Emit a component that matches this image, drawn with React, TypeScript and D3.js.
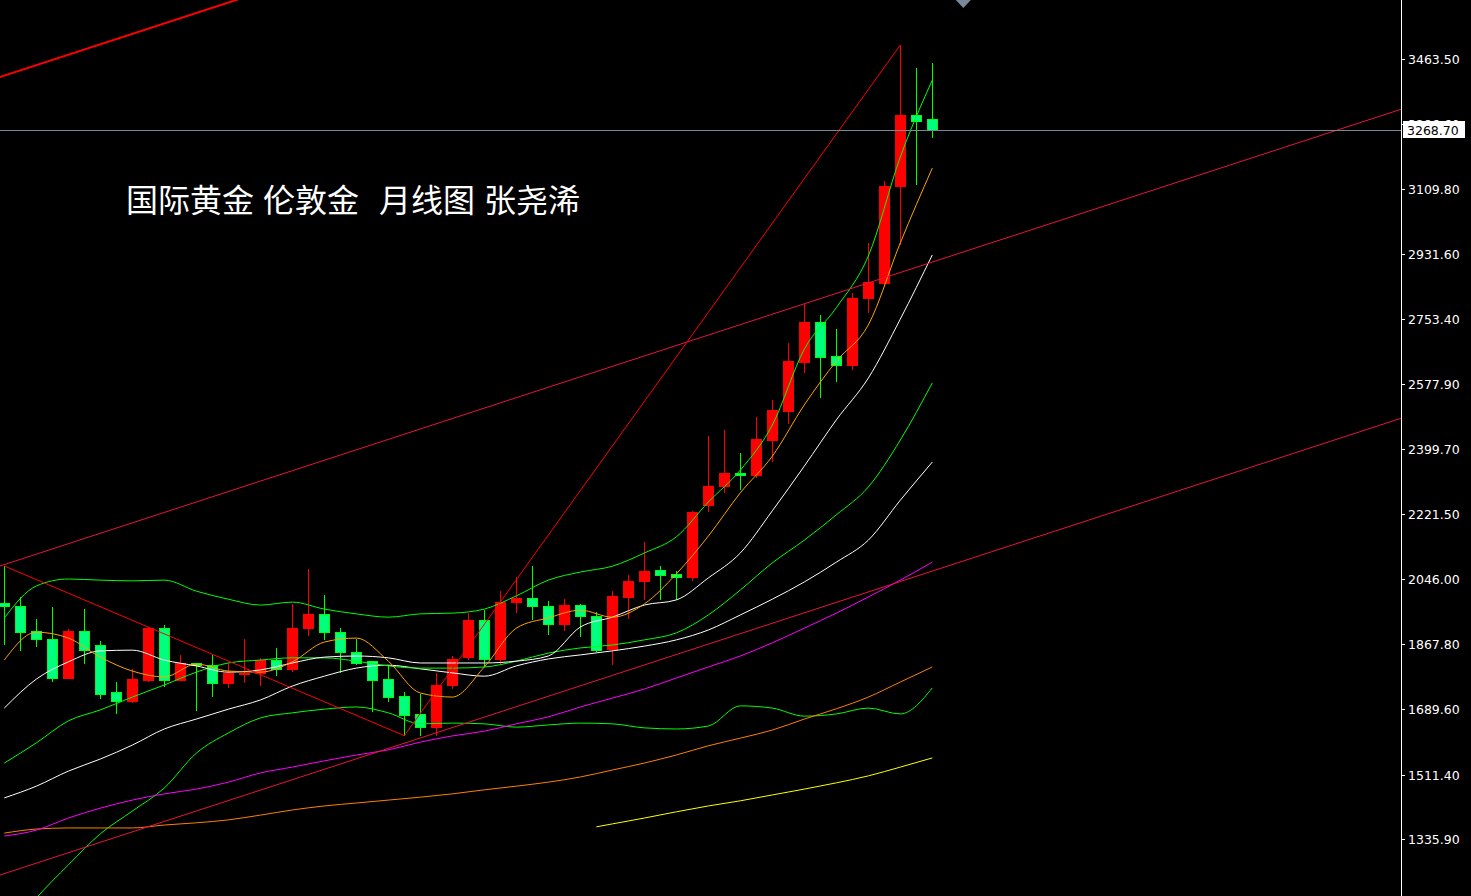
import React, { useEffect, useRef } from 'react';
import * as d3 from 'd3';

const W = 1471;
const H = 896;
const PLOT_RIGHT = 1401;

// monthly candles, oldest first (red = up, green = down)
const opens = [
  1977.7, 1971.4, 1901.3, 1881.4, 1773.1, 1901.3, 1865.0, 1736.8, 1710.3, 1767.7,
  1908.7, 1767.7, 1815.1, 1809.6, 1760.6, 1785.0, 1786.8, 1824.1, 1796.9, 1908.7,
  1946.9, 1900.5, 1845.1, 1820.5, 1769.6, 1724.0, 1674.9, 1640.5, 1754.0, 1830.4,
  1933.2, 1826.0, 1980.4, 1993.2, 1970.6, 1920.4, 1974.1, 1944.1, 1853.3, 1994.1,
  2037.7, 2066.9, 2056.0, 2048.6, 2245.0, 2296.8, 2331.5, 2326.8, 2424.2, 2503.3,
  2634.3, 2743.4, 2653.3, 2628.0, 2809.6, 2850.6, 3115.1, 3310.7, 3299.8,
];
const highs = [
  2080.5, 1996.0, 1936.0, 1968.7, 1908.7, 1963.2, 1875.9, 1764.9, 1799.6, 1914.9,
  1919.6, 1837.8, 1816.0, 1837.8, 1815.1, 1881.4, 1828.8, 1856.9, 1977.7, 2072.3,
  2001.4, 1911.4, 1881.4, 1821.4, 1810.5, 1736.0, 1731.4, 1787.8, 1835.1, 1951.5,
  1960.5, 2012.3, 2050.5, 2080.5, 1985.0, 1989.7, 1976.0, 1955.8, 2012.3, 2056.0,
  2146.0, 2080.5, 2066.9, 2230.5, 2435.1, 2451.5, 2388.8, 2487.0, 2533.3, 2688.8,
  2794.4, 2765.2, 2727.0, 2824.4, 2960.7, 3130.7, 3501.7, 3438.9, 3452.6,
];
const lows = [
  1865.0, 1848.7, 1859.6, 1764.9, 1771.0, 1813.2, 1718.6, 1677.6, 1707.6, 1765.0,
  1751.3, 1766.8, 1685.8, 1724.0, 1748.5, 1760.6, 1754.0, 1781.3, 1790.6, 1890.4,
  1878.7, 1789.5, 1810.5, 1683.1, 1710.3, 1617.6, 1617.6, 1617.6, 1745.8, 1824.1,
  1805.9, 1810.5, 1951.5, 1933.2, 1893.1, 1904.1, 1886.0, 1846.8, 1810.5, 1935.1,
  1987.8, 1987.8, 1987.8, 2039.6, 2228.6, 2278.8, 2288.6, 2320.6, 2365.0, 2467.9,
  2606.1, 2538.0, 2583.2, 2615.2, 2771.4, 2840.7, 2956.1, 3119.8, 3248.8,
];
const closes = [
  1970.6, 1898.6, 1881.4, 1773.1, 1901.3, 1851.4, 1729.5, 1710.3, 1769.6, 1908.7,
  1767.7, 1815.1, 1807.8, 1760.6, 1786.8, 1788.0, 1824.1, 1796.9, 1911.4, 1946.9,
  1898.6, 1844.0, 1815.1, 1767.7, 1722.4, 1672.2, 1640.5, 1755.9, 1826.8, 1933.2,
  1826.0, 1982.3, 1993.2, 1970.6, 1920.4, 1974.1, 1942.2, 1849.5, 1996.0, 2039.6,
  2064.2, 2054.1, 2048.6, 2225.9, 2298.7, 2331.5, 2326.8, 2426.9, 2506.0, 2637.0,
  2743.4, 2648.7, 2628.0, 2811.5, 2852.5, 3117.0, 3310.7, 3292.4, 3268.7,
];

const sampleIdx = [
  0, 2, 4, 6, 8, 10, 12, 14, 16, 18, 20, 22, 24, 26, 28,
  30, 32, 34, 36, 38, 40, 42, 44, 46, 48, 50, 52, 54, 56, 58,
];
const bandUpper = [
  1939, 2026, 2045, 2042, 2040, 2042, 2012, 1990, 1974, 1982, 1963, 1950, 1941, 1950, 1952,
  1963, 1999, 2042, 2064, 2080, 2116, 2160, 2255, 2342, 2465, 2672, 2785, 2926, 3196, 3406,
];
const maOrange = [
  1824, 1900, 1884, 1832, 1794, 1778, 1813, 1794, 1791, 1819, 1873, 1884, 1821, 1734, 1723,
  1805, 1911, 1939, 1960, 1941, 1977, 2059, 2162, 2280, 2380, 2520, 2639, 2738, 2962, 3166,
];
const maWhite = [
  1693, 1772, 1819, 1849, 1851, 1824, 1808, 1791, 1797, 1816, 1832, 1835, 1830, 1816, 1816,
  1816, 1821, 1835, 1914, 1941, 1974, 1988, 2048, 2116, 2231, 2353, 2479, 2593, 2754, 2929,
];
const maWhiteSlow = [
  1448, 1480, 1521, 1554, 1592, 1636, 1663, 1690, 1715, 1753, 1780, 1802, 1810, 1800, 1789,
  1780, 1808, 1827, 1838, 1849, 1862, 1879, 1906, 1947, 1990, 2037, 2091, 2151, 2260, 2364,
];
const maGreen = [
  1543, 1598, 1658, 1688, 1723, 1756, 1791, 1816, 1824, 1830, 1830, 1821, 1808, 1802, 1802,
  1805, 1821, 1843, 1857, 1865, 1879, 1898, 1947, 2015, 2089, 2151, 2220, 2296, 2424, 2580,
];
const bandLower = [
  1071, 1175, 1265, 1350, 1412, 1475, 1570, 1625, 1666, 1680, 1690, 1696, 1680, 1650, 1652,
  1650, 1641, 1647, 1652, 1650, 1639, 1636, 1644, 1699, 1693, 1671, 1677, 1693, 1677, 1748,
];
const maMagenta = [
  1344, 1360, 1393, 1420, 1442, 1459, 1472, 1491, 1516, 1532, 1549, 1565, 1579, 1600, 1617,
  1630, 1650, 1669, 1696, 1720, 1745, 1775, 1805, 1835, 1871, 1911, 1952, 1996, 2042, 2091,
];
const maOrangeSlow = [
  1352, 1363, 1366, 1366, 1366, 1374, 1380, 1388, 1401, 1415, 1426, 1434, 1442, 1450, 1459,
  1470, 1480, 1491, 1505, 1524, 1543, 1565, 1590, 1611, 1633, 1663, 1691, 1723, 1764, 1805,
];
const yellowIdx = [37, 38, 40, 42, 44, 46, 48, 50, 52, 54, 56, 58];
const maYellow = [1369, 1377, 1393, 1410, 1426, 1440, 1456, 1472, 1489, 1508, 1532, 1557];

// channel lines: two anchors each (candle index, price)
const channelTop = [[0, 2084.4], [56, 2881.1]];
const channelBottom = [[0, 1241.5], [56, 2038.2]];
const channelFar = [[0, 3418.2], [56, 4214.9]];
// zigzag pivots (candle index)
const zigzagIdx = [0, 25, 56];

const tickValues = [3463.5, 3286.6, 3109.8, 2931.6, 2753.4, 2577.9, 2399.7, 2221.5, 2046.0, 1867.8, 1689.6, 1511.4, 1335.9];
const titleWords = ['国际黄金', '伦敦金', '月线图', '张尧浠'];
const titleX = [126, 263, 379, 484];

export default function App() {
  const svgRef = useRef<SVGSVGElement | null>(null);

  useEffect(() => {
    const svg = d3.select(svgRef.current);
    svg.selectAll('*').remove();

    const x = d3.scaleLinear().domain([0, 58]).range([4.3, 932.3]);
    const y = d3.scaleLinear().domain([1180.4, 3624.4]).range([H, 0]);

    svg.append('rect').attr('width', W).attr('height', H).attr('fill', '#000');
    svg.append('defs').append('clipPath').attr('id', 'plot')
      .append('rect').attr('width', PLOT_RIGHT).attr('height', H);
    const plot = svg.append('g').attr('clip-path', 'url(#plot)');

    // title
    plot.append('g').selectAll('text').data(titleWords).join('text')
      .attr('x', (_d, i) => titleX[i])
      .attr('y', 212)
      .attr('fill', '#fff')
      .attr('font-family', '"Noto Sans CJK SC", sans-serif')
      .attr('font-size', 32)
      .text(d => d);

    // candles
    const candles = opens.map((o, i) => ({ i, o, h: highs[i], l: lows[i], c: closes[i], up: closes[i] >= o }));
    const cg = plot.append('g').attr('shape-rendering', 'crispEdges');
    cg.selectAll('line').data(candles).join('line')
      .attr('x1', d => Math.round(x(d.i)) + 0.5)
      .attr('x2', d => Math.round(x(d.i)) + 0.5)
      .attr('y1', d => y(d.h))
      .attr('y2', d => y(d.l))
      .attr('stroke', d => d.up ? '#ff0000' : '#00ff00');
    cg.selectAll('rect').data(candles).join('rect')
      .attr('x', d => Math.round(x(d.i)) - 4.5)
      .attr('width', 10)
      .attr('y', d => y(Math.max(d.o, d.c)))
      .attr('height', d => Math.max(1, y(Math.min(d.o, d.c)) - y(Math.max(d.o, d.c))))
      .attr('fill', d => d.up ? '#ff0000' : '#00ff7f')
      .attr('stroke', d => d.up ? '#ff0000' : '#00ff00');

    // moving averages / bands
    const line = d3.line<number[]>().x(d => x(d[0])).y(d => y(d[1])).curve(d3.curveMonotoneX);
    const series = [
      { idx: sampleIdx, v: bandLower, color: '#00ff00' },
      { idx: sampleIdx, v: maOrangeSlow, color: '#ff8000' },
      { idx: yellowIdx, v: maYellow, color: '#ffff00' },
      { idx: sampleIdx, v: maMagenta, color: '#ff00ff' },
      { idx: sampleIdx, v: maWhiteSlow, color: '#ffffff' },
      { idx: sampleIdx, v: maGreen, color: '#00ff00' },
      { idx: sampleIdx, v: maWhite, color: '#ffffff' },
      { idx: sampleIdx, v: maOrange, color: '#ffa500' },
      { idx: sampleIdx, v: bandUpper, color: '#00ff00' },
    ];
    plot.append('g').selectAll('path').data(series).join('path')
      .attr('d', s => line(s.idx.map((i, k) => [i, s.v[k]])))
      .attr('fill', 'none')
      .attr('stroke', s => s.color)
      .attr('stroke-width', 1);

    // channel lines, extended across the plot
    const extend = (a: number[][]) => {
      const f = d3.scaleLinear().domain([a[0][0], a[1][0]]).range([a[0][1], a[1][1]]);
      return [[-2, f(-2)], [92, f(92)]];
    };
    const straight = d3.line<number[]>().x(d => x(d[0])).y(d => y(d[1]));
    const channels = [
      { a: channelTop, color: '#e8143c', w: 1 },
      { a: channelBottom, color: '#e8143c', w: 1 },
      { a: channelFar, color: '#ff0000', w: 2 },
    ];
    plot.append('g').selectAll('path').data(channels).join('path')
      .attr('d', c => straight(extend(c.a)))
      .attr('fill', 'none')
      .attr('stroke', c => c.color)
      .attr('stroke-width', c => c.w);

    // zigzag
    const zz = zigzagIdx.map((i, k) => [i, k % 2 === 0 ? highs[i] : lows[i]]);
    plot.append('path')
      .attr('d', straight(zz))
      .attr('fill', 'none')
      .attr('stroke', '#ff0000')
      .attr('stroke-width', 1);

    // last price line
    const last = closes[closes.length - 1];
    plot.append('line')
      .attr('x1', 0).attr('x2', PLOT_RIGHT)
      .attr('y1', Math.round(y(last)) + 0.5).attr('y2', Math.round(y(last)) + 0.5)
      .attr('stroke', '#778899')
      .attr('shape-rendering', 'crispEdges');

    // shift marker at top
    const sx = x(60) - 1;
    svg.append('path')
      .attr('d', `M${sx - 7.5},0 L${sx + 7.5},0 L${sx},8 Z`)
      .attr('fill', '#778899');

    // price axis
    const axis = svg.append('g').attr('shape-rendering', 'crispEdges');
    axis.append('line')
      .attr('x1', PLOT_RIGHT + 0.5).attr('x2', PLOT_RIGHT + 0.5)
      .attr('y1', 0).attr('y2', H)
      .attr('stroke', '#fff');
    const ticks = axis.selectAll('g.tick').data(tickValues).join('g')
      .attr('transform', d => `translate(0,${Math.round(y(d)) + 0.5})`);
    ticks.append('line')
      .attr('x1', PLOT_RIGHT).attr('x2', PLOT_RIGHT + 4)
      .attr('stroke', '#fff');
    ticks.append('text')
      .attr('x', PLOT_RIGHT + 7)
      .attr('dy', '0.36em')
      .attr('fill', '#fff')
      .attr('font-family', '"DejaVu Sans", sans-serif')
      .attr('font-size', 12.5)
      .text(d => d.toFixed(2));

    // last price label
    const ly = Math.round(y(last));
    svg.append('rect')
      .attr('x', PLOT_RIGHT + 2).attr('y', ly - 9)
      .attr('width', 62).attr('height', 17)
      .attr('fill', '#fff');
    svg.append('text')
      .attr('x', PLOT_RIGHT + 6).attr('y', ly)
      .attr('dy', '0.36em')
      .attr('fill', '#000')
      .attr('font-family', '"DejaVu Sans", sans-serif')
      .attr('font-size', 12.5)
      .text(last.toFixed(2));

    return () => {
      svg.selectAll('*').remove();
    };
  }, []);

  return (
    <svg ref={svgRef} width={W} height={H}
      style={{ position: 'fixed', left: 0, top: 0, display: 'block' }} />
  );
}
